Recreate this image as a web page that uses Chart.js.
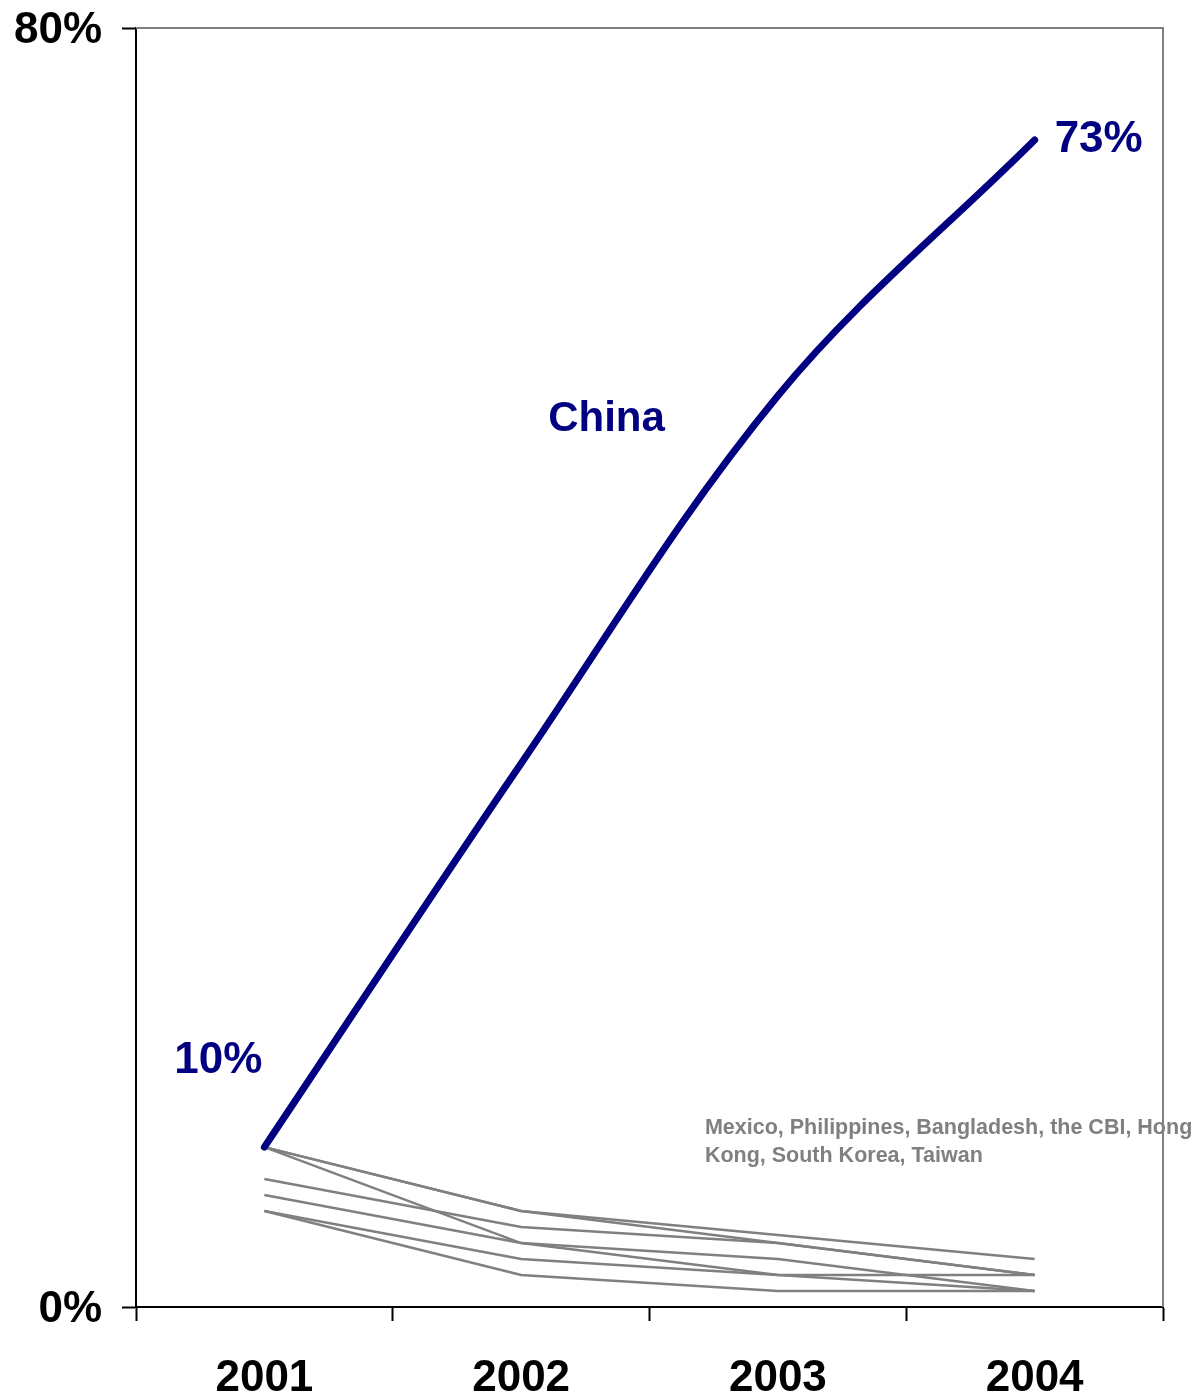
<!DOCTYPE html>
<html>
<head>
<meta charset="utf-8">
<script src="https://cdn.jsdelivr.net/npm/chart.js@4.4.1/dist/chart.umd.min.js"></script>
<style>
  html, body { margin: 0; padding: 0; background: #fff; }
  #wrap { width: 1199px; height: 1399px; }
</style>
</head>
<body>
<div id="wrap"><canvas id="shareChart"></canvas></div>
<script>
// ---------- data
const years = ["2001", "2002", "2003", "2004"];

const china = [10, 34, 57, 73];

// the seven other suppliers (grey lines)
const other1 = [10, 6, 4.5, 3];
const other2 = [10, 6, 4, 2];
const other3 = [10, 4, 3, 1];
const other4 = [8, 5, 4, 2];
const other5 = [7, 4, 2, 1];
const other6 = [6, 3, 2, 2];
const other7 = [6, 2, 1, 1];

const yTicks = [0, 80];

const otherNames = ["Mexico, Philippines, Bangladesh, the CBI, Hong", "Kong, South Korea, Taiwan"];

const NAVY = "#000080";
const GREY = "#808080";
const FONT = "'Liberation Sans', Arial, sans-serif";

function greyLine(values) {
    return {
        data: values,
        borderColor: GREY,
        borderWidth: 2.5,
        pointRadius: 0,
        tension: 0,
        fill: false
    };
}

// frame on the top and right, plus the text labels
const annotations = {
    id: "annotations",
    afterDatasetsDraw(chart) {
        const ctx = chart.ctx;
        const area = chart.chartArea;
        const x = chart.scales.x;
        const y = chart.scales.y;

        ctx.save();
        ctx.strokeStyle = GREY;
        ctx.lineWidth = 2;
        ctx.beginPath();
        ctx.moveTo(area.left, area.top);
        ctx.lineTo(area.right, area.top);
        ctx.lineTo(area.right, area.bottom);
        ctx.stroke();

        ctx.fillStyle = NAVY;
        ctx.font = "bold 44px " + FONT;
        ctx.textBaseline = "middle";

        ctx.textAlign = "center";
        ctx.fillText(china[0] + "%", x.getPixelForValue(0) - 46, y.getPixelForValue(china[0]) - 86);

        ctx.textAlign = "left";
        ctx.fillText(china[3] + "%", x.getPixelForValue(3) + 20, y.getPixelForValue(china[3]));

        ctx.font = "bold 42px " + FONT;
        ctx.textAlign = "center";
        ctx.fillText("China", (x.getPixelForValue(1) + x.getPixelForValue(2)) / 2 - 43, y.getPixelForValue(55.5));

        ctx.fillStyle = GREY;
        ctx.font = "bold 21.5px " + FONT;
        ctx.textAlign = "left";
        otherNames.forEach((line, i) => {
            ctx.fillText(line, x.getPixelForValue(2) - 73, y.getPixelForValue(11.2) + i * 28);
        });
        ctx.restore();
    }
};

const shareChart = new Chart(document.getElementById("shareChart"), {

    type: "line",

    data: {
        labels: years,
        datasets: [
            {
                label: "China",
                data: china,
                borderColor: NAVY,
                borderWidth: 7,
                borderCapStyle: "round",
                borderJoinStyle: "round",
                pointRadius: 0,
                tension: 0.35,
                fill: false
            },
            greyLine(other1),
            greyLine(other2),
            greyLine(other3),
            greyLine(other4),
            greyLine(other5),
            greyLine(other6),
            greyLine(other7)
        ]
    },

    options: {
        responsive: true,
        maintainAspectRatio: false,
        animation: false,
        layout: {
            padding: { top: 28, right: 36, left: 0, bottom: 0 }
        },
        plugins: {
            legend: { display: false },
            tooltip: { enabled: false }
        },
        scales: {
            x: {
                type: "category",
                offset: true,
                grid: {
                    offset: true,
                    drawOnChartArea: false,
                    drawTicks: true,
                    tickLength: 14,
                    tickWidth: 2,
                    tickColor: "#000"
                },
                border: { color: "#000", width: 2 },
                ticks: {
                    color: "#000",
                    font: { family: FONT, size: 44, weight: "bold" },
                    padding: 31,
                    maxRotation: 0
                },
                afterFit(scale) { scale.height = 92; }
            },
            y: {
                min: yTicks[0],
                max: yTicks[1],
                afterBuildTicks(scale) {
                    scale.ticks = yTicks.map(v => ({ value: v }));
                },
                grid: {
                    drawOnChartArea: false,
                    drawTicks: true,
                    tickLength: 14,
                    tickWidth: 2,
                    tickColor: "#000"
                },
                border: { color: "#000", width: 2 },
                ticks: {
                    color: "#000",
                    font: { family: FONT, size: 44, weight: "bold", lineHeight: 0.2 },
                    padding: 20,
                    labelOffset: 3,
                    callback: v => v + "%"
                },
                afterFit(scale) { scale.width = 136; }
            }
        }
    },

    plugins: [annotations]
});
</script>
</body>
</html>
